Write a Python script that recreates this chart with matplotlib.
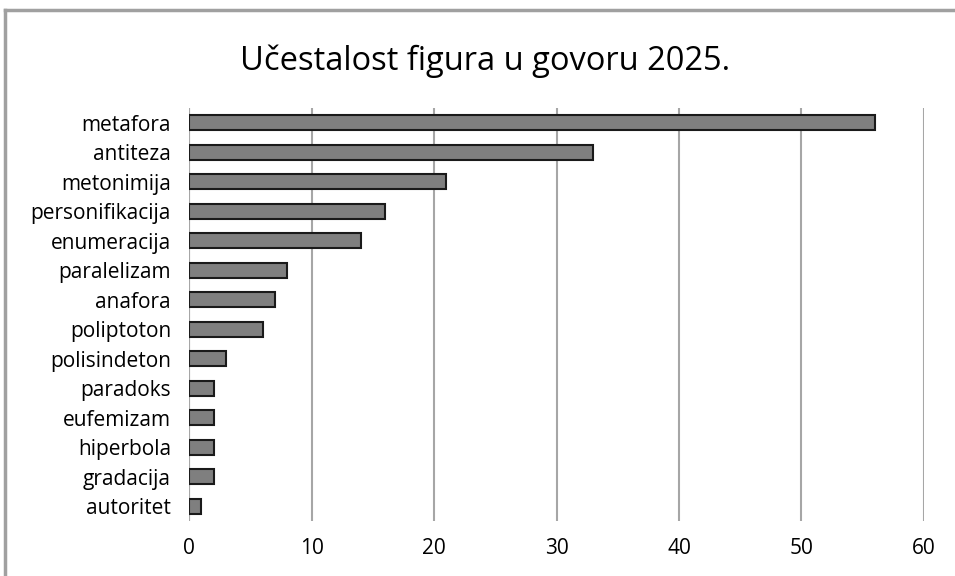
import matplotlib.pyplot as plt
from matplotlib.lines import Line2D

plt.rcParams['font.family'] = ['Open Sans', 'DejaVu Sans']

categories = ['metafora', 'antiteza', 'metonimija', 'personifikacija', 'enumeracija',
              'paralelizam', 'anafora', 'poliptoton', 'polisindeton', 'paradoks',
              'eufemizam', 'hiperbola', 'gradacija', 'autoritet']
values = [56, 33, 21, 16, 14, 8, 7, 6, 3, 2, 2, 2, 2, 1]
xticks = [0, 10, 20, 30, 40, 50, 60]

fig = plt.figure(figsize=(9.55, 5.76), dpi=100)
ax = fig.add_axes([0.198, 0.0955, 0.7695, 0.717])

pos = list(range(len(categories)))
ax.barh(pos, values, height=0.52, color='#7f7f7f', edgecolor='#1a1a1a', linewidth=1.5, zorder=3)

ax.set_ylim(len(categories) - 0.5, -0.5)
ax.set_yticks(pos)
ax.set_yticklabels(categories, fontsize=15)
ax.set_xlim(0, 60)
ax.set_xticks(xticks)
ax.set_xticklabels([str(t) for t in xticks], fontsize=15)
ax.tick_params(length=0)
ax.tick_params(axis='x', pad=12)
ax.tick_params(axis='y', pad=13)

ax.grid(axis='x', color='#a6a6a6', linewidth=1.5, zorder=0)
for s in ax.spines.values():
    s.set_visible(False)
ax.axvline(0, color='#a6a6a6', linewidth=1.5, zorder=1)

fig.text(0.508, 0.893, 'Učestalost figura u govoru 2025.', ha='center', va='center', fontsize=23.5)

# outer frame (top and left edges)
fig.add_artist(Line2D([5 / 955, 1.0], [1 - 10 / 576, 1 - 10 / 576], color='#a0a0a0', linewidth=2.5))
fig.add_artist(Line2D([5 / 955, 5 / 955], [0.0, 1 - 10 / 576], color='#a0a0a0', linewidth=2.5))

fig.savefig('out.png', dpi=100)
